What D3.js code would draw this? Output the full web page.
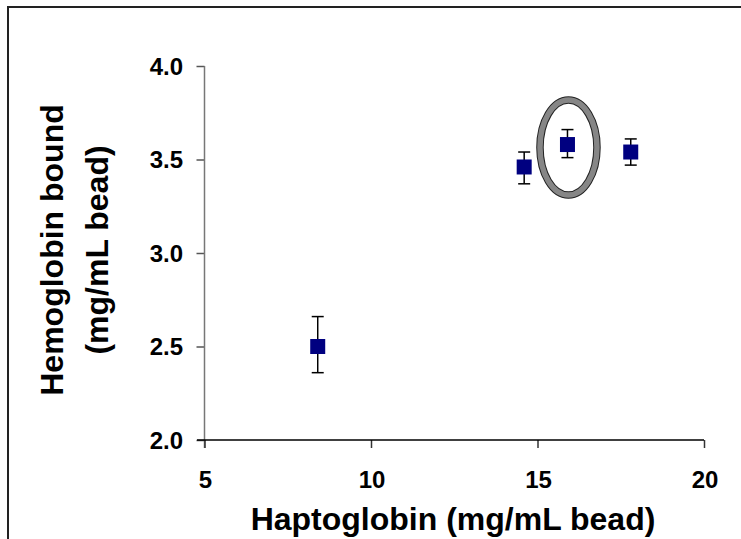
<!DOCTYPE html>
<html><head><meta charset="utf-8">
<script src="https://cdn.jsdelivr.net/npm/d3@7"></script>
<style>
html,body{margin:0;padding:0;background:#fff;}
svg{display:block;}
text{font-family:"Liberation Sans",Arial,sans-serif;font-weight:bold;fill:#000;}
</style></head>
<body>
<svg id="chart" width="741" height="539"></svg>
<script>
// Data
const haptoglobin = [8.4, 14.6, 15.9, 17.8];
const hemoglobin = [2.50, 3.46, 3.58, 3.54];
const errLow = [2.36, 3.37, 3.51, 3.47];
const errHigh = [2.66, 3.54, 3.66, 3.61];
const xTicks = [5, 10, 15, 20];
const yTicks = [2.0, 2.5, 3.0, 3.5, 4.0];
const highlightIndex = 2;

const svg = d3.select("#chart");

// outer frame
svg.append("path").attr("d","M8,539 L8,7 L741,7")
  .attr("fill","none").attr("stroke","#222").attr("stroke-width",2);

const x = d3.scaleLinear().domain([5,20]).range([204.5,704]);
const y = d3.scaleLinear().domain([2,4]).range([440,66]);

const tickFont = "24px";

// y axis
const yAxis = svg.append("g").attr("transform","translate(204.5,0)")
  .call(d3.axisLeft(y).tickValues(yTicks).tickFormat("").tickSize(8));
yAxis.select(".domain").remove();
yAxis.append("line").attr("x1",0).attr("x2",0).attr("y1",66).attr("y2",448)
  .attr("stroke","#777").attr("stroke-width",1.5);
yAxis.selectAll(".tick line").attr("stroke","#555").attr("stroke-width",1.5);
svg.append("g").attr("class","ylabels").selectAll("text").data(yTicks).join("text")
  .attr("x",183).attr("y",d=>y(d)).attr("dy","0.36em").attr("text-anchor","end")
  .style("font-size",tickFont).text(d3.format(".1f"));

// x axis
const xAxis = svg.append("g").attr("transform","translate(0,440)")
  .call(d3.axisBottom(x).tickValues(xTicks).tickFormat("").tickSize(8));
xAxis.select(".domain").remove();
xAxis.append("line").attr("x1",197).attr("x2",704).attr("y1",0).attr("y2",0)
  .attr("stroke","#000").attr("stroke-width",1.5);
xAxis.selectAll(".tick line").attr("stroke","#333").attr("stroke-width",1.5);
svg.append("g").attr("class","xlabels").selectAll("text").data(xTicks).join("text")
  .attr("x",d=>x(d)+1).attr("y",488).attr("text-anchor","middle")
  .style("font-size",tickFont).text(d3.format("d"));

// titles
svg.append("text").attr("x",453).attr("y",530).attr("text-anchor","middle")
  .style("font-size","32px").text("Haptoglobin (mg/mL bead)");
const yt = svg.append("g").attr("transform","translate(0,250) rotate(-90)");
yt.append("text").attr("x",0).attr("y",63).attr("text-anchor","middle")
  .style("font-size","32px").text("Hemoglobin bound");
yt.append("text").attr("x",0).attr("y",108).attr("text-anchor","middle")
  .style("font-size","32px").text("(mg/mL bead)");

// error bars
const idx = d3.range(haptoglobin.length);
const eb = svg.append("g");
idx.forEach(i=>{
  const cx = x(haptoglobin[i]);
  eb.append("line").attr("x1",cx).attr("x2",cx).attr("y1",y(errLow[i])).attr("y2",y(errHigh[i]))
    .attr("stroke","#000").attr("stroke-width",1.5);
  [errLow[i],errHigh[i]].forEach(v=>{
    eb.append("line").attr("x1",cx-6).attr("x2",cx+6).attr("y1",y(v)).attr("y2",y(v))
      .attr("stroke","#000").attr("stroke-width",1.5);
  });
});

// markers
svg.append("g").selectAll("rect").data(idx).join("rect")
  .attr("x",i=>x(haptoglobin[i])-7.5).attr("y",i=>y(hemoglobin[i])-7.5)
  .attr("width",15).attr("height",15).attr("fill","#000080");

// highlight ellipse
const hx = x(haptoglobin[highlightIndex]) + 1;
const hy = y(hemoglobin[highlightIndex]) + 3;
svg.append("ellipse").attr("cx",hx).attr("cy",hy).attr("rx",28.5).attr("ry",47.5)
  .attr("fill","none").attr("stroke","#222").attr("stroke-width",7.5);
svg.append("ellipse").attr("cx",hx).attr("cy",hy).attr("rx",28.5).attr("ry",47.5)
  .attr("fill","none").attr("stroke","#868686").attr("stroke-width",5.5);
</script>
</body></html>
